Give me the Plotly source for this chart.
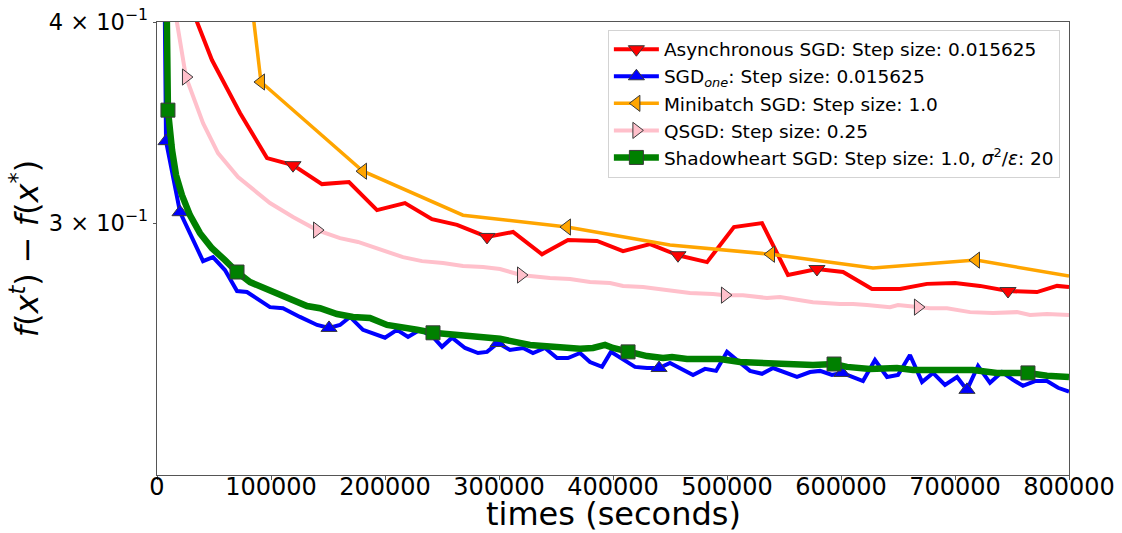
import math
import plotly.graph_objects as go

# Elapsed wall-clock time (seconds) and objective gap f(x^t) - f(x^*) for each method.
async_t = [0, 23700, 48200, 72800, 96500, 119300, 144700, 168400, 193000, 217500,
           241200, 263200, 289500, 312300, 337700, 360500, 386000, 408800, 432500, 457000,
           482500, 506100, 530700, 553500, 578900, 601800, 627200, 651800, 675400, 700000,
           721900, 746500, 771900, 789500, 800000]
async_f = [1.3, 0.4194, 0.3788, 0.3512, 0.3292, 0.3259, 0.3172, 0.3181, 0.3056, 0.3087,
           0.3017, 0.2992, 0.2941, 0.2962, 0.2869, 0.2928, 0.2924, 0.2882, 0.2911, 0.2865,
           0.2837, 0.2983, 0.3000, 0.2785, 0.2809, 0.2797, 0.2730, 0.2730, 0.2750, 0.2753,
           0.2742, 0.2722, 0.2718, 0.2742, 0.2738]
async_marks = [5, 12, 19, 24, 31]

sgdone_t = [0, 7900, 20200, 28900, 40400, 49100, 59600, 70200, 78900, 99100,
            110500, 125400, 140400, 150900, 160500, 169300, 180700, 200000, 210500, 220200,
            230700, 242100, 250000, 258800, 270200, 281600, 289500, 299100, 309600, 321100,
            329800, 340400, 350900, 360500, 371100, 379800, 390400, 398200, 419300, 429800,
            440400, 450000, 470200, 480700, 490400, 500000, 520200, 530700, 540400, 561400,
            572800, 581600, 592100, 600900, 619300, 629800, 640400, 650000, 660500, 671100,
            680700, 691200, 701800, 710500, 720200, 730700, 741200, 750900, 759600, 770200,
            780700, 790400, 800000]
sgdone_f = [1.3, 0.3373, 0.3047, 0.2957, 0.2841, 0.2857, 0.2805, 0.2722, 0.2718, 0.2660,
            0.2656, 0.2623, 0.2593, 0.2582, 0.2593, 0.2623, 0.2575, 0.2546, 0.2575, 0.2549,
            0.2575, 0.2549, 0.2513, 0.2546, 0.2509, 0.2491, 0.2495, 0.2527, 0.2502, 0.2509,
            0.2491, 0.2509, 0.2473, 0.2473, 0.2491, 0.2459, 0.2442, 0.2495, 0.2442, 0.2438,
            0.2438, 0.2456, 0.2414, 0.2435, 0.2428, 0.2495, 0.2428, 0.2418, 0.2438, 0.2407,
            0.2424, 0.2428, 0.2414, 0.2421, 0.2393, 0.2466, 0.2407, 0.2414, 0.2484, 0.2390,
            0.2421, 0.2380, 0.2407, 0.2363, 0.2445, 0.2387, 0.2424, 0.2397, 0.2377, 0.2393,
            0.2393, 0.2370, 0.2357]
sgdone_marks = [1, 2, 13, 27, 40, 53, 63]

minibatch_t = [0, 91200, 180700, 268400, 359600, 450000, 538600, 628100, 718400, 800000]
minibatch_f = [1.3, 0.3671, 0.3231, 0.3034, 0.2983, 0.2907, 0.2869, 0.2813, 0.2845, 0.2781]
minibatch_marks = [1, 2, 4, 6, 8]

qsgd_t = [0, 7900, 25400, 40400, 53500, 71100, 99100, 119300, 140400, 160500,
          176300, 198200, 215800, 232500, 250900, 268400, 286000, 300900, 319300, 327200,
          344700, 362300, 379800, 397400, 408800, 426300, 445600, 467500, 487700, 498200,
          514000, 535100, 546500, 561400, 575400, 599100, 610500, 622800, 643000, 650000,
          667500, 678100, 693000, 713200, 733300, 754400, 765800, 780700, 800000]
qsgd_f = [1.3, 0.4396, 0.3697, 0.3461, 0.3316, 0.3204, 0.3087, 0.3026, 0.2970, 0.2936,
          0.2920, 0.2886, 0.2857, 0.2841, 0.2833, 0.2821, 0.2817, 0.2809, 0.2785, 0.2781,
          0.2773, 0.2769, 0.2757, 0.2753, 0.2742, 0.2738, 0.2726, 0.2714, 0.2710, 0.2706,
          0.2706, 0.2695, 0.2699, 0.2687, 0.2679, 0.2672, 0.2672, 0.2668, 0.2660, 0.2668,
          0.2660, 0.2656, 0.2656, 0.2641, 0.2638, 0.2641, 0.2630, 0.2634, 0.2630]
qsgd_marks = [2, 8, 18, 29, 40]

shadow_t = [0, 9600, 13200, 16700, 21900, 28900, 37700, 48200, 59600, 70200,
            81600, 99100, 114000, 131600, 143000, 157900, 171900, 186800, 201800, 215800,
            228100, 242100, 257000, 274600, 300900, 327200, 344700, 371100, 382500, 393000,
            400000, 413200, 429800, 443900, 451800, 464900, 493900, 511400, 531600, 552600,
            575400, 593900, 605300, 625400, 649100, 663200, 693000, 715800, 736800, 764000,
            780700, 800000]
shadow_f = [1.3, 0.3526, 0.3330, 0.3213, 0.3122, 0.3034, 0.2957, 0.2894, 0.2845, 0.2797,
            0.2757, 0.2726, 0.2699, 0.2664, 0.2656, 0.2634, 0.2623, 0.2619, 0.2593, 0.2586,
            0.2575, 0.2564, 0.2557, 0.2549, 0.2542, 0.2520, 0.2513, 0.2506, 0.2509, 0.2520,
            0.2509, 0.2495, 0.2480, 0.2473, 0.2477, 0.2470, 0.2470, 0.2459, 0.2456, 0.2449,
            0.2449, 0.2452, 0.2442, 0.2435, 0.2438, 0.2431, 0.2431, 0.2431, 0.2421, 0.2421,
            0.2411, 0.2407]
shadow_marks = [1, 9, 21, 31, 41, 49]

x_ticks = [0, 100000, 200000, 300000, 400000, 500000, 600000, 700000, 800000]
y_ticks = [0.3, 0.4]
y_tick_text = ["3 × 10<sup>−1</sup>", "4 × 10<sup>−1</sup>"]
y_limits = [0.2092, 0.4]
x_limits = [0, 800000]

series = [
    ("Asynchronous SGD: Step size: 0.015625", async_t, async_f, async_marks,
     "#ff0000", 4, "triangle-down"),
    ("SGD<sub><i>one</i></sub>: Step size: 0.015625", sgdone_t, sgdone_f, sgdone_marks,
     "#0000ff", 4, "triangle-up"),
    ("Minibatch SGD: Step size: 1.0", minibatch_t, minibatch_f, minibatch_marks,
     "#ffa500", 3.5, "triangle-left"),
    ("QSGD: Step size: 0.25", qsgd_t, qsgd_f, qsgd_marks,
     "#ffc0cb", 4, "triangle-right"),
    ("Shadowheart SGD: Step size: 1.0, <i>σ</i><sup>2</sup>/<i>ε</i>: 20", shadow_t, shadow_f,
     shadow_marks, "#008000", 6.5, "square"),
]

FONT = "DejaVu Sans"
EDGE = dict(color="#3a3a3a", width=1)
MSIZE = 14

fig = go.Figure()

for i, (name, t, f, marks, color, width, symbol) in enumerate(series):
    group = f"s{i}"
    fig.add_trace(go.Scatter(
        x=t, y=f, mode="lines", line=dict(color=color, width=width),
        legendgroup=group, showlegend=False, hoverinfo="skip"))
    fig.add_trace(go.Scatter(
        x=[t[k] for k in marks], y=[f[k] for k in marks], mode="markers",
        marker=dict(symbol=symbol, size=MSIZE, color=color, line=EDGE),
        legendgroup=group, showlegend=False))

# legend entries showing line + marker together
for i, (name, t, f, marks, color, width, symbol) in enumerate(series):
    fig.add_trace(go.Scatter(
        x=[None], y=[None], mode="lines+markers", name=name,
        line=dict(color=color, width=width),
        marker=dict(symbol=symbol, size=MSIZE, color=color, line=EDGE),
        legendgroup=f"s{i}", showlegend=True))

axis_line = "#555555"

fig.update_layout(
    width=1122, height=533,
    margin=dict(l=157, r=53, t=22, b=58, autoexpand=False),
    paper_bgcolor="white", plot_bgcolor="white",
    font=dict(family=FONT, size=24, color="black"),
    showlegend=True,
    legend=dict(
        x=0.990, y=0.983, xanchor="right", yanchor="top",
        bgcolor="rgba(255,255,255,0.85)", bordercolor="#d3d3d3", borderwidth=1,
        font=dict(family=FONT, size=18.5, color="black"),
        tracegroupgap=0, traceorder="grouped", itemwidth=45,
    ),
    xaxis=dict(
        range=x_limits, tickvals=x_ticks, tickformat="d",
        showline=True, mirror=True, linecolor=axis_line, linewidth=1,
        ticks="outside", ticklen=3.5, tickcolor=axis_line, showgrid=False, zeroline=False,
        tickfont=dict(size=24), automargin=False, ticklabelstandoff=-13,
    ),
    yaxis=dict(
        type="log", range=[math.log10(y_limits[0]), math.log10(y_limits[1])],
        tickvals=y_ticks, ticktext=y_tick_text,
        showline=True, mirror=True, linecolor=axis_line, linewidth=1,
        ticks="outside", ticklen=3.5, tickcolor=axis_line, showgrid=False, zeroline=False,
        tickfont=dict(size=22.5), automargin=False,
        title=dict(text="<i>f</i>(<i>x</i><sup><i>t</i></sup>) − <i>f</i>(<i>x</i><sup>*</sup>)",
                   font=dict(size=32), standoff=0),
    ),
    annotations=[
        dict(text="times (seconds)", xref="paper", yref="paper", x=0.5, y=-0.1325,
             xanchor="center", yanchor="bottom", showarrow=False,
             font=dict(family=FONT, size=32, color="black")),
    ],
)

fig.write_html("out.html")
